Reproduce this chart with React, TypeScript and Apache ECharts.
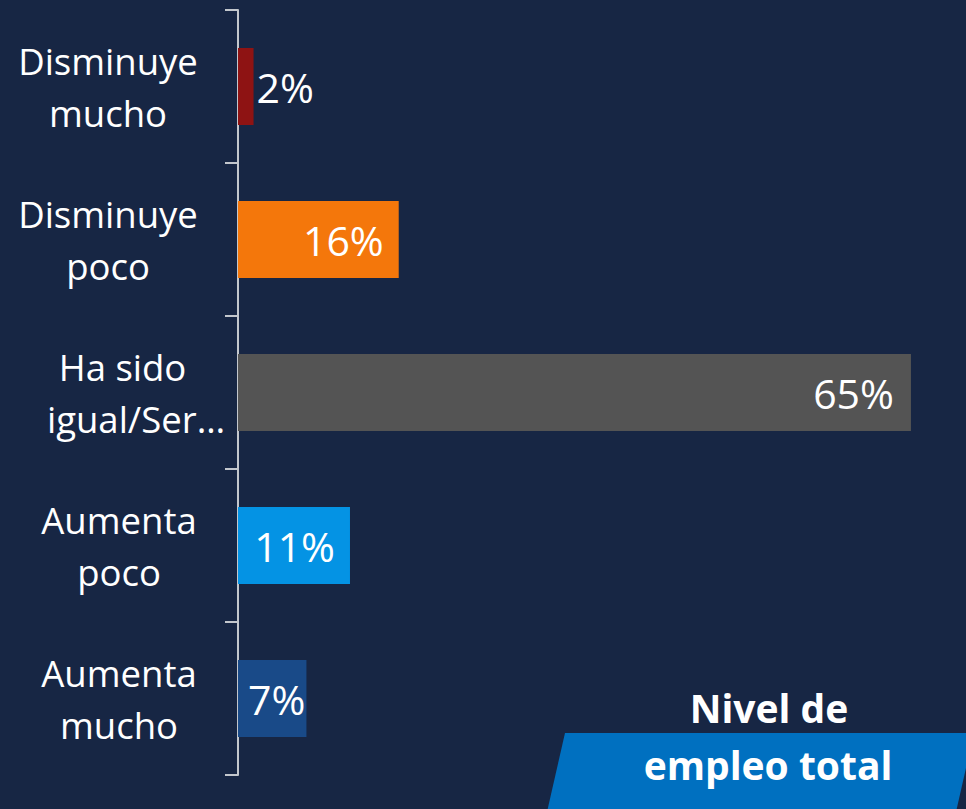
import React, { useEffect, useRef } from "react";
import * as echarts from "echarts";

const categories = ["Disminuye mucho", "Disminuye poco", "Ha sido igual/Ser…", "Aumenta poco", "Aumenta mucho"];
const values = [1.5, 15.5, 64.9, 10.8, 6.6];
const barColors = ["#8E1313", "#F4770B", "#545454", "#0493E4", "#194A88"];
const labelPositions = ["right", "insideRight", "insideRight", "insideRight", "insideLeft"];
const labelDistances = [3, 15, 17, 15, 10];
const titleLines = ["Nivel de", "empleo total"];

const BG = "#172644";
const FONT = "'Open Sans', 'Noto Sans', sans-serif";
const AXIS = "#C3C7CD";

export default function App() {
  const ref = useRef<HTMLDivElement>(null);
  useEffect(() => {
    if (!ref.current) return;
    const chart = echarts.init(ref.current, null, { renderer: "svg" });
    chart.setOption({
      animation: false,
      backgroundColor: BG,
      grid: { left: 238, right: 54, top: 10, bottom: 34 },
      xAxis: { type: "value", min: 0, max: 65, show: false },
      yAxis: {
        type: "category",
        inverse: true,
        data: categories,
        axisLine: { show: true, lineStyle: { color: AXIS, width: 2 } },
        axisTick: { show: true, length: 13, lineStyle: { color: AXIS, width: 2 } },
        axisLabel: {
          margin: 119,
          align: "center",
          color: "#FFFFFF",
          fontFamily: FONT,
          fontSize: 36.5,
          lineHeight: 52,
          formatter: (v: string) => {
            if (v.startsWith("Disminuye")) {
              const parts = v.split(" ");
              return `{d|${parts[0]}}\n{d|${parts[1]}}`;
            }
            if (v.startsWith("Ha sido")) {
              return `{h1|Ha sido}\n{h2|igual/Ser…}`;
            }
            const parts = v.split(" ");
            return `{n|${parts[0]}}\n{n|${parts[1]}}`;
          },
          rich: {
            d: { color: "#FFFFFF", fontFamily: FONT, fontSize: 36.5, lineHeight: 52, padding: [0, 22, 0, 0] },
            n: { color: "#FFFFFF", fontFamily: FONT, fontSize: 36.5, lineHeight: 52 },
            h1: { color: "#FFFFFF", fontFamily: FONT, fontSize: 36.5, lineHeight: 52, padding: [0, 0, 0, 7] },
            h2: { color: "#FFFFFF", fontFamily: FONT, fontSize: 36.5, lineHeight: 52, padding: [0, 0, 0, 34] },
          },
        },
        splitLine: { show: false },
      },
      series: [
        {
          type: "bar",
          barWidth: 77,
          data: values.map((v, i) => ({
            value: v,
            itemStyle: { color: barColors[i] },
            label: {
              show: true,
              position: labelPositions[i],
              distance: labelDistances[i],
            },
          })),
          label: {
            show: true,
            color: "#FFFFFF",
            fontFamily: FONT,
            fontSize: 41,
            formatter: (p: any) => Math.round(p.value) + "%",
          },
        },
      ],
      graphic: [
        {
          type: "polygon",
          shape: { points: [[565, 733], [974, 733], [956, 812], [547, 812]] },
          style: { fill: "#0070C0" },
        },
        {
          type: "text",
          x: 769,
          y: 707,
          style: {
            text: titleLines[0],
            fill: "#FFFFFF",
            font: `bold 39px ${FONT}`,
            align: "center",
            verticalAlign: "middle",
          },
        },
        {
          type: "text",
          x: 768,
          y: 764,
          style: {
            text: titleLines[1],
            fill: "#FFFFFF",
            font: `bold 39px ${FONT}`,
            align: "center",
            verticalAlign: "middle",
          },
        },
      ],
    });
    return () => chart.dispose();
  }, []);
  return <div ref={ref} style={{ position: "fixed", left: 0, top: 0, width: 966, height: 809 }} />;
}
